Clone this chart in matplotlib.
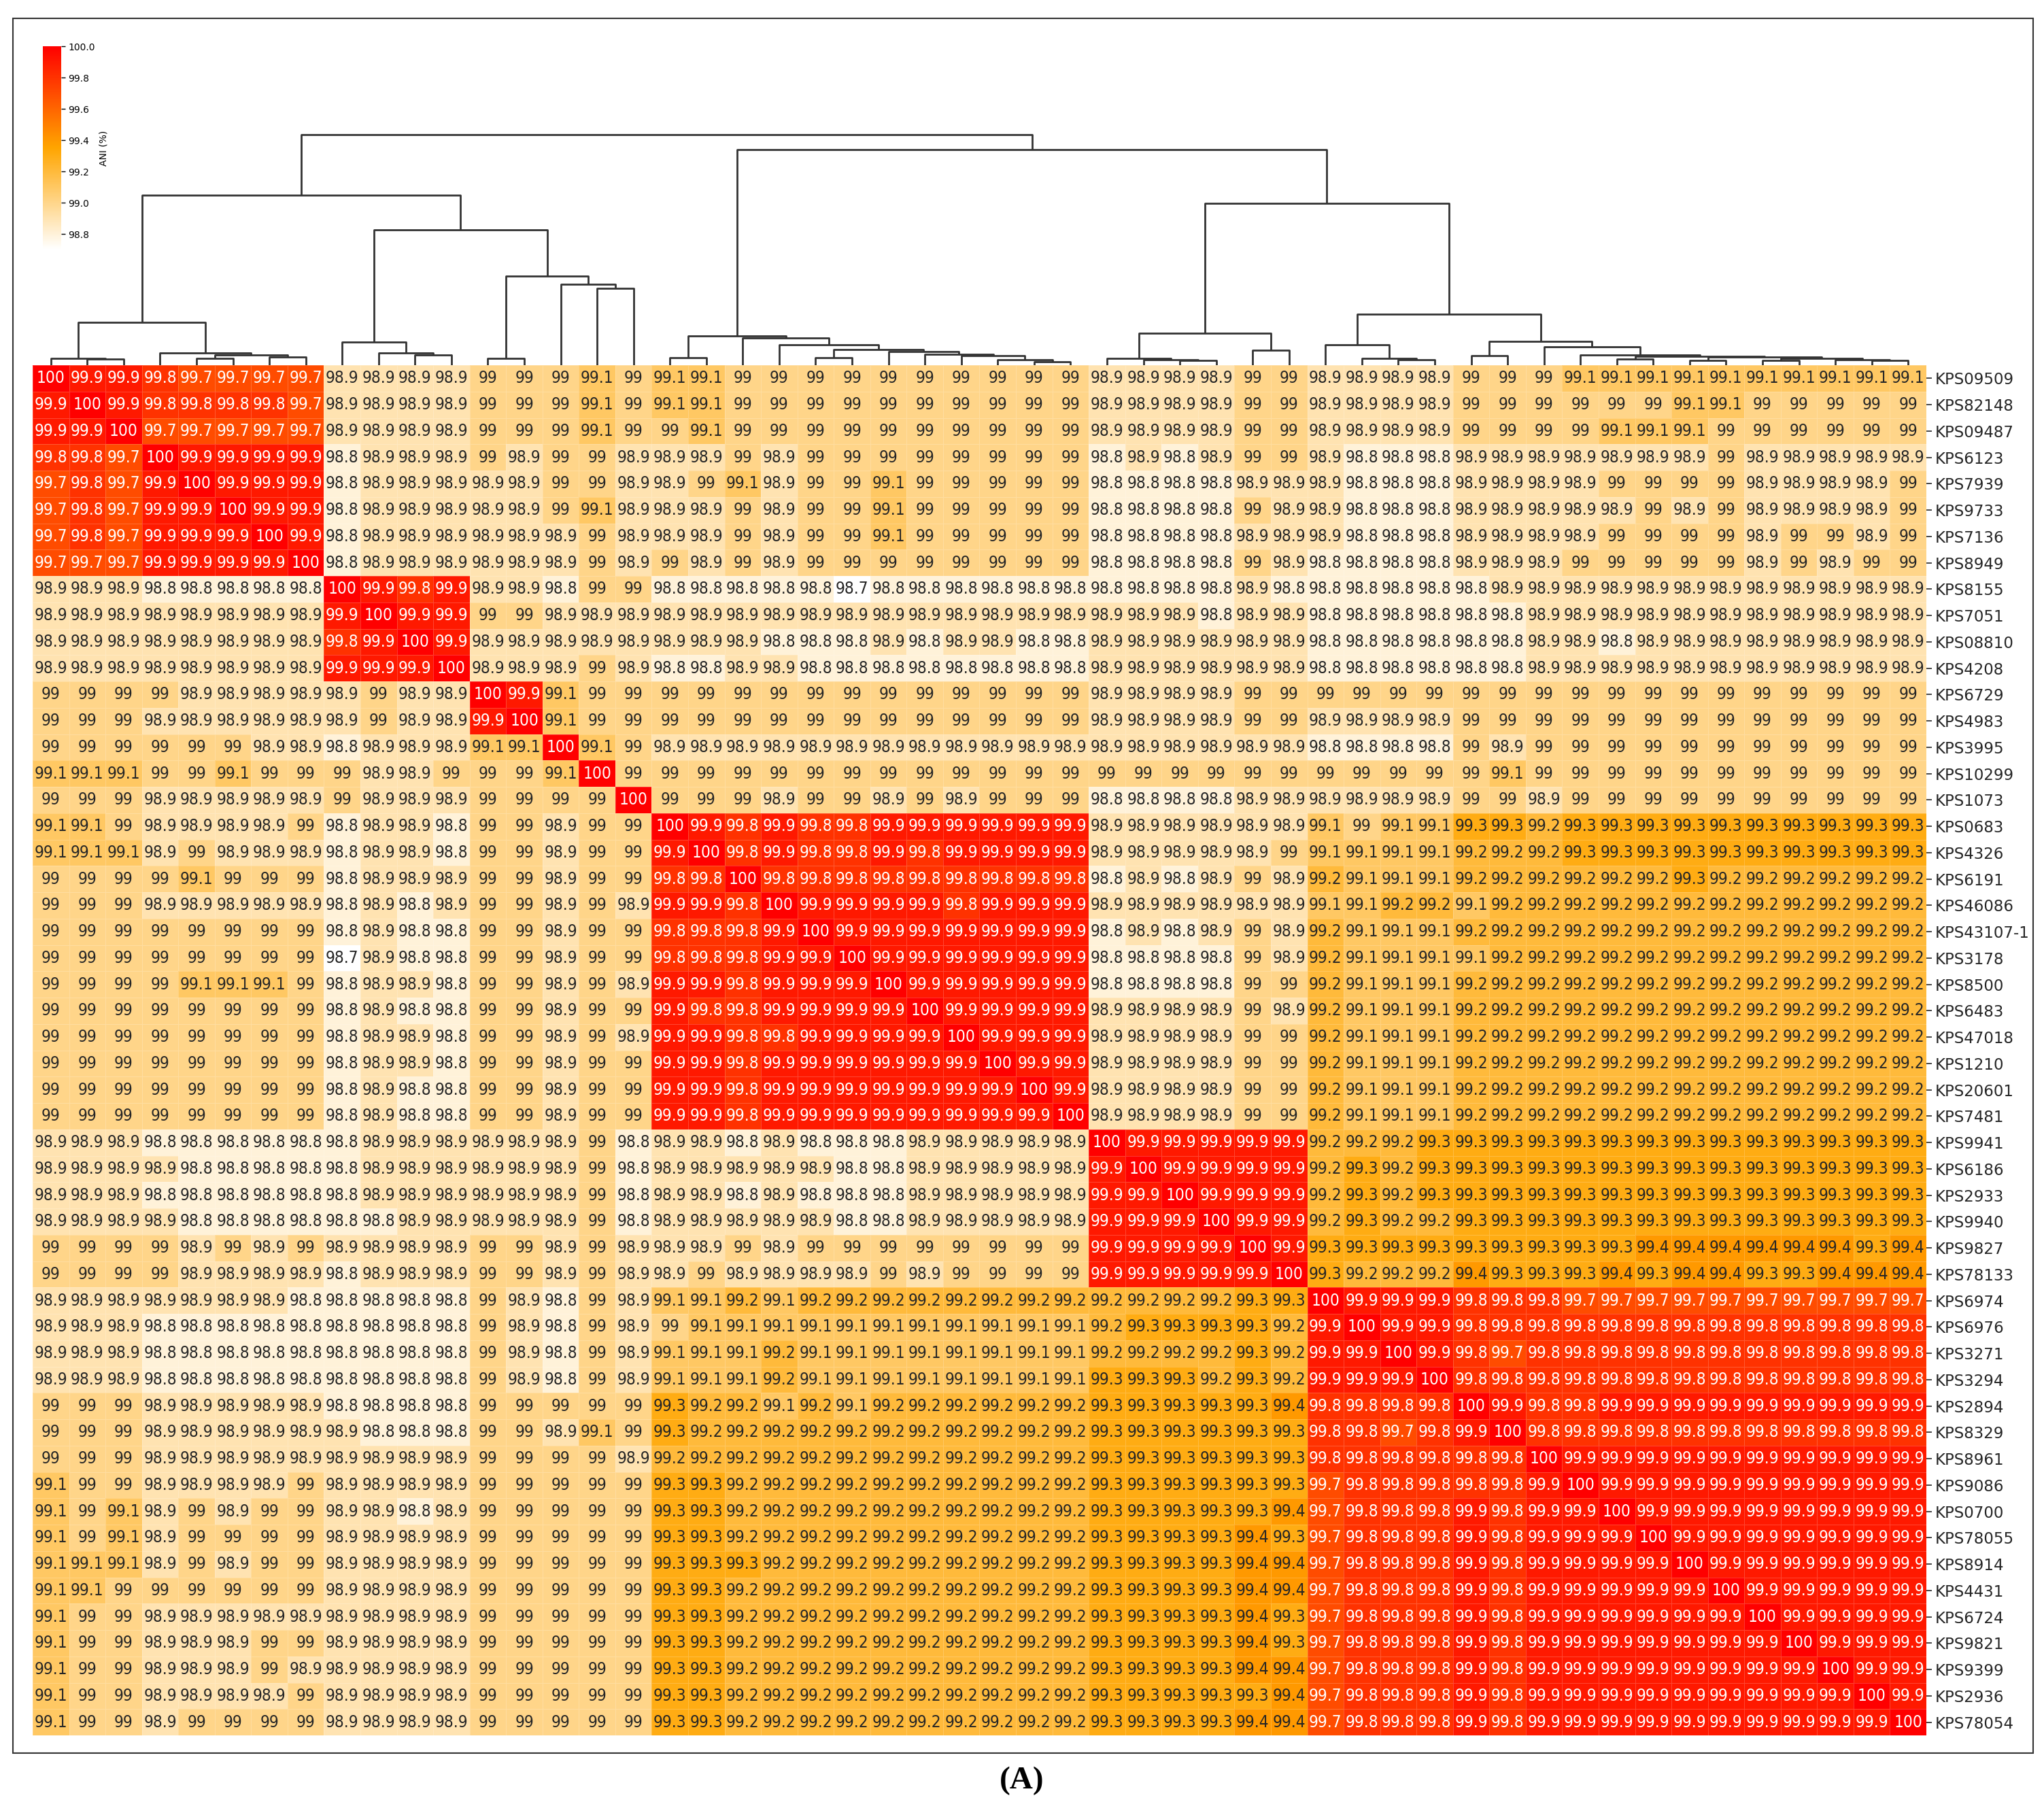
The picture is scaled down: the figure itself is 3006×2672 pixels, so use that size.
import numpy as np
import matplotlib
matplotlib.use("Agg")
import matplotlib.pyplot as plt
from matplotlib import font_manager
from matplotlib.colors import LinearSegmentedColormap, Normalize, to_rgb
from matplotlib.patches import Rectangle

strains = ["KPS09509", "KPS82148", "KPS09487", "KPS6123", "KPS7939", "KPS9733",
           "KPS7136", "KPS8949", "KPS8155", "KPS7051", "KPS08810", "KPS4208",
           "KPS6729", "KPS4983", "KPS3995", "KPS10299", "KPS1073", "KPS0683",
           "KPS4326", "KPS6191", "KPS46086", "KPS43107-1", "KPS3178", "KPS8500",
           "KPS6483", "KPS47018", "KPS1210", "KPS20601", "KPS7481", "KPS9941",
           "KPS6186", "KPS2933", "KPS9940", "KPS9827", "KPS78133", "KPS6974",
           "KPS6976", "KPS3271", "KPS3294", "KPS2894", "KPS8329", "KPS8961",
           "KPS9086", "KPS0700", "KPS78055", "KPS8914", "KPS4431", "KPS6724",
           "KPS9821", "KPS9399", "KPS2936", "KPS78054"]

# pairwise ANI (%), rows/cols in the clustered order shown
ani_rows = [
    ("100 99.9 99.9 99.8 99.7 99.7 99.7 99.7 98.9 98.9 98.9 98.9 99 99 99 99.1 99 "
     "99.1 99.1 99 99 99 99 99 99 99 99 99 99 98.9 98.9 98.9 98.9 99 99 "
     "98.9 98.9 98.9 98.9 99 99 99 99.1 99.1 99.1 99.1 99.1 99.1 99.1 99.1 99.1 99.1"),
    ("99.9 100 99.9 99.8 99.8 99.8 99.8 99.7 98.9 98.9 98.9 98.9 99 99 99 99.1 99 "
     "99.1 99.1 99 99 99 99 99 99 99 99 99 99 98.9 98.9 98.9 98.9 99 99 "
     "98.9 98.9 98.9 98.9 99 99 99 99 99 99 99.1 99.1 99 99 99 99 99"),
    ("99.9 99.9 100 99.7 99.7 99.7 99.7 99.7 98.9 98.9 98.9 98.9 99 99 99 99.1 99 "
     "99 99.1 99 99 99 99 99 99 99 99 99 99 98.9 98.9 98.9 98.9 99 99 "
     "98.9 98.9 98.9 98.9 99 99 99 99 99.1 99.1 99.1 99 99 99 99 99 99"),
    ("99.8 99.8 99.7 100 99.9 99.9 99.9 99.9 98.8 98.9 98.9 98.9 99 98.9 99 99 98.9 "
     "98.9 98.9 99 98.9 99 99 99 99 99 99 99 99 98.8 98.9 98.8 98.9 99 99 "
     "98.9 98.8 98.8 98.8 98.9 98.9 98.9 98.9 98.9 98.9 98.9 99 98.9 98.9 98.9 98.9 98.9"),
    ("99.7 99.8 99.7 99.9 100 99.9 99.9 99.9 98.8 98.9 98.9 98.9 98.9 98.9 99 99 98.9 "
     "98.9 99 99.1 98.9 99 99 99.1 99 99 99 99 99 98.8 98.8 98.8 98.8 98.9 98.9 "
     "98.9 98.8 98.8 98.8 98.9 98.9 98.9 98.9 99 99 99 99 98.9 98.9 98.9 98.9 99"),
    ("99.7 99.8 99.7 99.9 99.9 100 99.9 99.9 98.8 98.9 98.9 98.9 98.9 98.9 99 99.1 98.9 "
     "98.9 98.9 99 98.9 99 99 99.1 99 99 99 99 99 98.8 98.8 98.8 98.8 99 98.9 "
     "98.9 98.8 98.8 98.8 98.9 98.9 98.9 98.9 98.9 99 98.9 99 98.9 98.9 98.9 98.9 99"),
    ("99.7 99.8 99.7 99.9 99.9 99.9 100 99.9 98.8 98.9 98.9 98.9 98.9 98.9 98.9 99 98.9 "
     "98.9 98.9 99 98.9 99 99 99.1 99 99 99 99 99 98.8 98.8 98.8 98.8 98.9 98.9 "
     "98.9 98.8 98.8 98.8 98.9 98.9 98.9 98.9 99 99 99 99 98.9 99 99 98.9 99"),
    ("99.7 99.7 99.7 99.9 99.9 99.9 99.9 100 98.8 98.9 98.9 98.9 98.9 98.9 98.9 99 98.9 "
     "99 98.9 99 98.9 99 99 99 99 99 99 99 99 98.8 98.8 98.8 98.8 99 98.9 "
     "98.8 98.8 98.8 98.8 98.9 98.9 98.9 99 99 99 99 99 98.9 99 98.9 99 99"),
    ("98.9 98.9 98.9 98.8 98.8 98.8 98.8 98.8 100 99.9 99.8 99.9 98.9 98.9 98.8 99 99 "
     "98.8 98.8 98.8 98.8 98.8 98.7 98.8 98.8 98.8 98.8 98.8 98.8 98.8 98.8 98.8 98.8 98.9 98.8 "
     "98.8 98.8 98.8 98.8 98.8 98.9 98.9 98.9 98.9 98.9 98.9 98.9 98.9 98.9 98.9 98.9 98.9"),
    ("98.9 98.9 98.9 98.9 98.9 98.9 98.9 98.9 99.9 100 99.9 99.9 99 99 98.9 98.9 98.9 "
     "98.9 98.9 98.9 98.9 98.9 98.9 98.9 98.9 98.9 98.9 98.9 98.9 98.9 98.9 98.9 98.8 98.9 98.9 "
     "98.8 98.8 98.8 98.8 98.8 98.8 98.9 98.9 98.9 98.9 98.9 98.9 98.9 98.9 98.9 98.9 98.9"),
    ("98.9 98.9 98.9 98.9 98.9 98.9 98.9 98.9 99.8 99.9 100 99.9 98.9 98.9 98.9 98.9 98.9 "
     "98.9 98.9 98.9 98.8 98.8 98.8 98.9 98.8 98.9 98.9 98.8 98.8 98.9 98.9 98.9 98.9 98.9 98.9 "
     "98.8 98.8 98.8 98.8 98.8 98.8 98.9 98.9 98.8 98.9 98.9 98.9 98.9 98.9 98.9 98.9 98.9"),
    ("98.9 98.9 98.9 98.9 98.9 98.9 98.9 98.9 99.9 99.9 99.9 100 98.9 98.9 98.9 99 98.9 "
     "98.8 98.8 98.9 98.9 98.8 98.8 98.8 98.8 98.8 98.8 98.8 98.8 98.9 98.9 98.9 98.9 98.9 98.9 "
     "98.8 98.8 98.8 98.8 98.8 98.8 98.9 98.9 98.9 98.9 98.9 98.9 98.9 98.9 98.9 98.9 98.9"),
    ("99 99 99 99 98.9 98.9 98.9 98.9 98.9 99 98.9 98.9 100 99.9 99.1 99 99 "
     "99 99 99 99 99 99 99 99 99 99 99 99 98.9 98.9 98.9 98.9 99 99 "
     "99 99 99 99 99 99 99 99 99 99 99 99 99 99 99 99 99"),
    ("99 99 99 98.9 98.9 98.9 98.9 98.9 98.9 99 98.9 98.9 99.9 100 99.1 99 99 "
     "99 99 99 99 99 99 99 99 99 99 99 99 98.9 98.9 98.9 98.9 99 99 "
     "98.9 98.9 98.9 98.9 99 99 99 99 99 99 99 99 99 99 99 99 99"),
    ("99 99 99 99 99 99 98.9 98.9 98.8 98.9 98.9 98.9 99.1 99.1 100 99.1 99 "
     "98.9 98.9 98.9 98.9 98.9 98.9 98.9 98.9 98.9 98.9 98.9 98.9 98.9 98.9 98.9 98.9 98.9 98.9 "
     "98.8 98.8 98.8 98.8 99 98.9 99 99 99 99 99 99 99 99 99 99 99"),
    ("99.1 99.1 99.1 99 99 99.1 99 99 99 98.9 98.9 99 99 99 99.1 100 99 "
     "99 99 99 99 99 99 99 99 99 99 99 99 99 99 99 99 99 99 "
     "99 99 99 99 99 99.1 99 99 99 99 99 99 99 99 99 99 99"),
    ("99 99 99 98.9 98.9 98.9 98.9 98.9 99 98.9 98.9 98.9 99 99 99 99 100 "
     "99 99 99 98.9 99 99 98.9 99 98.9 99 99 99 98.8 98.8 98.8 98.8 98.9 98.9 "
     "98.9 98.9 98.9 98.9 99 99 98.9 99 99 99 99 99 99 99 99 99 99"),
    ("99.1 99.1 99 98.9 98.9 98.9 98.9 99 98.8 98.9 98.9 98.8 99 99 98.9 99 99 "
     "100 99.9 99.8 99.9 99.8 99.8 99.9 99.9 99.9 99.9 99.9 99.9 98.9 98.9 98.9 98.9 98.9 98.9 "
     "99.1 99 99.1 99.1 99.3 99.3 99.2 99.3 99.3 99.3 99.3 99.3 99.3 99.3 99.3 99.3 99.3"),
    ("99.1 99.1 99.1 98.9 99 98.9 98.9 98.9 98.8 98.9 98.9 98.8 99 99 98.9 99 99 "
     "99.9 100 99.8 99.9 99.8 99.8 99.9 99.8 99.9 99.9 99.9 99.9 98.9 98.9 98.9 98.9 98.9 99 "
     "99.1 99.1 99.1 99.1 99.2 99.2 99.2 99.3 99.3 99.3 99.3 99.3 99.3 99.3 99.3 99.3 99.3"),
    ("99 99 99 99 99.1 99 99 99 98.8 98.9 98.9 98.9 99 99 98.9 99 99 "
     "99.8 99.8 100 99.8 99.8 99.8 99.8 99.8 99.8 99.8 99.8 99.8 98.8 98.9 98.8 98.9 99 98.9 "
     "99.2 99.1 99.1 99.1 99.2 99.2 99.2 99.2 99.2 99.2 99.3 99.2 99.2 99.2 99.2 99.2 99.2"),
    ("99 99 99 98.9 98.9 98.9 98.9 98.9 98.8 98.9 98.8 98.9 99 99 98.9 99 98.9 "
     "99.9 99.9 99.8 100 99.9 99.9 99.9 99.9 99.8 99.9 99.9 99.9 98.9 98.9 98.9 98.9 98.9 98.9 "
     "99.1 99.1 99.2 99.2 99.1 99.2 99.2 99.2 99.2 99.2 99.2 99.2 99.2 99.2 99.2 99.2 99.2"),
    ("99 99 99 99 99 99 99 99 98.8 98.9 98.8 98.8 99 99 98.9 99 99 "
     "99.8 99.8 99.8 99.9 100 99.9 99.9 99.9 99.9 99.9 99.9 99.9 98.8 98.9 98.8 98.9 99 98.9 "
     "99.2 99.1 99.1 99.1 99.2 99.2 99.2 99.2 99.2 99.2 99.2 99.2 99.2 99.2 99.2 99.2 99.2"),
    ("99 99 99 99 99 99 99 99 98.7 98.9 98.8 98.8 99 99 98.9 99 99 "
     "99.8 99.8 99.8 99.9 99.9 100 99.9 99.9 99.9 99.9 99.9 99.9 98.8 98.8 98.8 98.8 99 98.9 "
     "99.2 99.1 99.1 99.1 99.1 99.2 99.2 99.2 99.2 99.2 99.2 99.2 99.2 99.2 99.2 99.2 99.2"),
    ("99 99 99 99 99.1 99.1 99.1 99 98.8 98.9 98.9 98.8 99 99 98.9 99 98.9 "
     "99.9 99.9 99.8 99.9 99.9 99.9 100 99.9 99.9 99.9 99.9 99.9 98.8 98.8 98.8 98.8 99 99 "
     "99.2 99.1 99.1 99.1 99.2 99.2 99.2 99.2 99.2 99.2 99.2 99.2 99.2 99.2 99.2 99.2 99.2"),
    ("99 99 99 99 99 99 99 99 98.8 98.9 98.8 98.8 99 99 98.9 99 99 "
     "99.9 99.8 99.8 99.9 99.9 99.9 99.9 100 99.9 99.9 99.9 99.9 98.9 98.9 98.9 98.9 99 98.9 "
     "99.2 99.1 99.1 99.1 99.2 99.2 99.2 99.2 99.2 99.2 99.2 99.2 99.2 99.2 99.2 99.2 99.2"),
    ("99 99 99 99 99 99 99 99 98.8 98.9 98.9 98.8 99 99 98.9 99 98.9 "
     "99.9 99.9 99.8 99.8 99.9 99.9 99.9 99.9 100 99.9 99.9 99.9 98.9 98.9 98.9 98.9 99 99 "
     "99.2 99.1 99.1 99.1 99.2 99.2 99.2 99.2 99.2 99.2 99.2 99.2 99.2 99.2 99.2 99.2 99.2"),
    ("99 99 99 99 99 99 99 99 98.8 98.9 98.9 98.8 99 99 98.9 99 99 "
     "99.9 99.9 99.8 99.9 99.9 99.9 99.9 99.9 99.9 100 99.9 99.9 98.9 98.9 98.9 98.9 99 99 "
     "99.2 99.1 99.1 99.1 99.2 99.2 99.2 99.2 99.2 99.2 99.2 99.2 99.2 99.2 99.2 99.2 99.2"),
    ("99 99 99 99 99 99 99 99 98.8 98.9 98.8 98.8 99 99 98.9 99 99 "
     "99.9 99.9 99.8 99.9 99.9 99.9 99.9 99.9 99.9 99.9 100 99.9 98.9 98.9 98.9 98.9 99 99 "
     "99.2 99.1 99.1 99.1 99.2 99.2 99.2 99.2 99.2 99.2 99.2 99.2 99.2 99.2 99.2 99.2 99.2"),
    ("99 99 99 99 99 99 99 99 98.8 98.9 98.8 98.8 99 99 98.9 99 99 "
     "99.9 99.9 99.8 99.9 99.9 99.9 99.9 99.9 99.9 99.9 99.9 100 98.9 98.9 98.9 98.9 99 99 "
     "99.2 99.1 99.1 99.1 99.2 99.2 99.2 99.2 99.2 99.2 99.2 99.2 99.2 99.2 99.2 99.2 99.2"),
    ("98.9 98.9 98.9 98.8 98.8 98.8 98.8 98.8 98.8 98.9 98.9 98.9 98.9 98.9 98.9 99 98.8 "
     "98.9 98.9 98.8 98.9 98.8 98.8 98.8 98.9 98.9 98.9 98.9 98.9 100 99.9 99.9 99.9 99.9 99.9 "
     "99.2 99.2 99.2 99.3 99.3 99.3 99.3 99.3 99.3 99.3 99.3 99.3 99.3 99.3 99.3 99.3 99.3"),
    ("98.9 98.9 98.9 98.9 98.8 98.8 98.8 98.8 98.8 98.9 98.9 98.9 98.9 98.9 98.9 99 98.8 "
     "98.9 98.9 98.9 98.9 98.9 98.8 98.8 98.9 98.9 98.9 98.9 98.9 99.9 100 99.9 99.9 99.9 99.9 "
     "99.2 99.3 99.2 99.3 99.3 99.3 99.3 99.3 99.3 99.3 99.3 99.3 99.3 99.3 99.3 99.3 99.3"),
    ("98.9 98.9 98.9 98.8 98.8 98.8 98.8 98.8 98.8 98.9 98.9 98.9 98.9 98.9 98.9 99 98.8 "
     "98.9 98.9 98.8 98.9 98.8 98.8 98.8 98.9 98.9 98.9 98.9 98.9 99.9 99.9 100 99.9 99.9 99.9 "
     "99.2 99.3 99.2 99.3 99.3 99.3 99.3 99.3 99.3 99.3 99.3 99.3 99.3 99.3 99.3 99.3 99.3"),
    ("98.9 98.9 98.9 98.9 98.8 98.8 98.8 98.8 98.8 98.8 98.9 98.9 98.9 98.9 98.9 99 98.8 "
     "98.9 98.9 98.9 98.9 98.9 98.8 98.8 98.9 98.9 98.9 98.9 98.9 99.9 99.9 99.9 100 99.9 99.9 "
     "99.2 99.3 99.2 99.2 99.3 99.3 99.3 99.3 99.3 99.3 99.3 99.3 99.3 99.3 99.3 99.3 99.3"),
    ("99 99 99 99 98.9 99 98.9 99 98.9 98.9 98.9 98.9 99 99 98.9 99 98.9 "
     "98.9 98.9 99 98.9 99 99 99 99 99 99 99 99 99.9 99.9 99.9 99.9 100 99.9 "
     "99.3 99.3 99.3 99.3 99.3 99.3 99.3 99.3 99.3 99.4 99.4 99.4 99.4 99.4 99.4 99.3 99.4"),
    ("99 99 99 99 98.9 98.9 98.9 98.9 98.8 98.9 98.9 98.9 99 99 98.9 99 98.9 "
     "98.9 99 98.9 98.9 98.9 98.9 99 98.9 99 99 99 99 99.9 99.9 99.9 99.9 99.9 100 "
     "99.3 99.2 99.2 99.2 99.4 99.3 99.3 99.3 99.4 99.3 99.4 99.4 99.3 99.3 99.4 99.4 99.4"),
    ("98.9 98.9 98.9 98.9 98.9 98.9 98.9 98.8 98.8 98.8 98.8 98.8 99 98.9 98.8 99 98.9 "
     "99.1 99.1 99.2 99.1 99.2 99.2 99.2 99.2 99.2 99.2 99.2 99.2 99.2 99.2 99.2 99.2 99.3 99.3 "
     "100 99.9 99.9 99.9 99.8 99.8 99.8 99.7 99.7 99.7 99.7 99.7 99.7 99.7 99.7 99.7 99.7"),
    ("98.9 98.9 98.9 98.8 98.8 98.8 98.8 98.8 98.8 98.8 98.8 98.8 99 98.9 98.8 99 98.9 "
     "99 99.1 99.1 99.1 99.1 99.1 99.1 99.1 99.1 99.1 99.1 99.1 99.2 99.3 99.3 99.3 99.3 99.2 "
     "99.9 100 99.9 99.9 99.8 99.8 99.8 99.8 99.8 99.8 99.8 99.8 99.8 99.8 99.8 99.8 99.8"),
    ("98.9 98.9 98.9 98.8 98.8 98.8 98.8 98.8 98.8 98.8 98.8 98.8 99 98.9 98.8 99 98.9 "
     "99.1 99.1 99.1 99.2 99.1 99.1 99.1 99.1 99.1 99.1 99.1 99.1 99.2 99.2 99.2 99.2 99.3 99.2 "
     "99.9 99.9 100 99.9 99.8 99.7 99.8 99.8 99.8 99.8 99.8 99.8 99.8 99.8 99.8 99.8 99.8"),
    ("98.9 98.9 98.9 98.8 98.8 98.8 98.8 98.8 98.8 98.8 98.8 98.8 99 98.9 98.8 99 98.9 "
     "99.1 99.1 99.1 99.2 99.1 99.1 99.1 99.1 99.1 99.1 99.1 99.1 99.3 99.3 99.3 99.2 99.3 99.2 "
     "99.9 99.9 99.9 100 99.8 99.8 99.8 99.8 99.8 99.8 99.8 99.8 99.8 99.8 99.8 99.8 99.8"),
    ("99 99 99 98.9 98.9 98.9 98.9 98.9 98.8 98.8 98.8 98.8 99 99 99 99 99 "
     "99.3 99.2 99.2 99.1 99.2 99.1 99.2 99.2 99.2 99.2 99.2 99.2 99.3 99.3 99.3 99.3 99.3 99.4 "
     "99.8 99.8 99.8 99.8 100 99.9 99.8 99.8 99.9 99.9 99.9 99.9 99.9 99.9 99.9 99.9 99.9"),
    ("99 99 99 98.9 98.9 98.9 98.9 98.9 98.9 98.8 98.8 98.8 99 99 98.9 99.1 99 "
     "99.3 99.2 99.2 99.2 99.2 99.2 99.2 99.2 99.2 99.2 99.2 99.2 99.3 99.3 99.3 99.3 99.3 99.3 "
     "99.8 99.8 99.7 99.8 99.9 100 99.8 99.8 99.8 99.8 99.8 99.8 99.8 99.8 99.8 99.8 99.8"),
    ("99 99 99 98.9 98.9 98.9 98.9 98.9 98.9 98.9 98.9 98.9 99 99 99 99 98.9 "
     "99.2 99.2 99.2 99.2 99.2 99.2 99.2 99.2 99.2 99.2 99.2 99.2 99.3 99.3 99.3 99.3 99.3 99.3 "
     "99.8 99.8 99.8 99.8 99.8 99.8 100 99.9 99.9 99.9 99.9 99.9 99.9 99.9 99.9 99.9 99.9"),
    ("99.1 99 99 98.9 98.9 98.9 98.9 99 98.9 98.9 98.9 98.9 99 99 99 99 99 "
     "99.3 99.3 99.2 99.2 99.2 99.2 99.2 99.2 99.2 99.2 99.2 99.2 99.3 99.3 99.3 99.3 99.3 99.3 "
     "99.7 99.8 99.8 99.8 99.8 99.8 99.9 100 99.9 99.9 99.9 99.9 99.9 99.9 99.9 99.9 99.9"),
    ("99.1 99 99.1 98.9 99 98.9 99 99 98.9 98.9 98.8 98.9 99 99 99 99 99 "
     "99.3 99.3 99.2 99.2 99.2 99.2 99.2 99.2 99.2 99.2 99.2 99.2 99.3 99.3 99.3 99.3 99.3 99.4 "
     "99.7 99.8 99.8 99.8 99.9 99.8 99.9 99.9 100 99.9 99.9 99.9 99.9 99.9 99.9 99.9 99.9"),
    ("99.1 99 99.1 98.9 99 99 99 99 98.9 98.9 98.9 98.9 99 99 99 99 99 "
     "99.3 99.3 99.2 99.2 99.2 99.2 99.2 99.2 99.2 99.2 99.2 99.2 99.3 99.3 99.3 99.3 99.4 99.3 "
     "99.7 99.8 99.8 99.8 99.9 99.8 99.9 99.9 99.9 100 99.9 99.9 99.9 99.9 99.9 99.9 99.9"),
    ("99.1 99.1 99.1 98.9 99 98.9 99 99 98.9 98.9 98.9 98.9 99 99 99 99 99 "
     "99.3 99.3 99.3 99.2 99.2 99.2 99.2 99.2 99.2 99.2 99.2 99.2 99.3 99.3 99.3 99.3 99.4 99.4 "
     "99.7 99.8 99.8 99.8 99.9 99.8 99.9 99.9 99.9 99.9 100 99.9 99.9 99.9 99.9 99.9 99.9"),
    ("99.1 99.1 99 99 99 99 99 99 98.9 98.9 98.9 98.9 99 99 99 99 99 "
     "99.3 99.3 99.2 99.2 99.2 99.2 99.2 99.2 99.2 99.2 99.2 99.2 99.3 99.3 99.3 99.3 99.4 99.4 "
     "99.7 99.8 99.8 99.8 99.9 99.8 99.9 99.9 99.9 99.9 99.9 100 99.9 99.9 99.9 99.9 99.9"),
    ("99.1 99 99 98.9 98.9 98.9 98.9 98.9 98.9 98.9 98.9 98.9 99 99 99 99 99 "
     "99.3 99.3 99.2 99.2 99.2 99.2 99.2 99.2 99.2 99.2 99.2 99.2 99.3 99.3 99.3 99.3 99.4 99.3 "
     "99.7 99.8 99.8 99.8 99.9 99.8 99.9 99.9 99.9 99.9 99.9 99.9 100 99.9 99.9 99.9 99.9"),
    ("99.1 99 99 98.9 98.9 98.9 99 99 98.9 98.9 98.9 98.9 99 99 99 99 99 "
     "99.3 99.3 99.2 99.2 99.2 99.2 99.2 99.2 99.2 99.2 99.2 99.2 99.3 99.3 99.3 99.3 99.4 99.3 "
     "99.7 99.8 99.8 99.8 99.9 99.8 99.9 99.9 99.9 99.9 99.9 99.9 99.9 100 99.9 99.9 99.9"),
    ("99.1 99 99 98.9 98.9 98.9 99 98.9 98.9 98.9 98.9 98.9 99 99 99 99 99 "
     "99.3 99.3 99.2 99.2 99.2 99.2 99.2 99.2 99.2 99.2 99.2 99.2 99.3 99.3 99.3 99.3 99.4 99.4 "
     "99.7 99.8 99.8 99.8 99.9 99.8 99.9 99.9 99.9 99.9 99.9 99.9 99.9 99.9 100 99.9 99.9"),
    ("99.1 99 99 98.9 98.9 98.9 98.9 99 98.9 98.9 98.9 98.9 99 99 99 99 99 "
     "99.3 99.3 99.2 99.2 99.2 99.2 99.2 99.2 99.2 99.2 99.2 99.2 99.3 99.3 99.3 99.3 99.3 99.4 "
     "99.7 99.8 99.8 99.8 99.9 99.8 99.9 99.9 99.9 99.9 99.9 99.9 99.9 99.9 99.9 100 99.9"),
    ("99.1 99 99 98.9 99 99 99 99 98.9 98.9 98.9 98.9 99 99 99 99 99 "
     "99.3 99.3 99.2 99.2 99.2 99.2 99.2 99.2 99.2 99.2 99.2 99.2 99.3 99.3 99.3 99.3 99.4 99.4 "
     "99.7 99.8 99.8 99.8 99.9 99.8 99.9 99.9 99.9 99.9 99.9 99.9 99.9 99.9 99.9 99.9 100"),
]

# column dendrogram: (left, right, merge height), leaves = column index
tree_a = ((0, (1, 2, 8.7), 10.3), (3, ((4, 5, 10.3), (6, 7, 12.0), 15.3), 18.0), 63.0)
tree_b = (8, (9, (10, 11, 15.3), 18.0), 33.7)
tree_c = ((12, 13, 9.7), (14, (15, 16, 112.7), 118.7), 131.0)
tree_d = ((17, 18, 11.0),
          (19, (20, ((21, 22, 11.0),
                     (23, (24, (25, (26, (27, 28, 5.3), 7.7), 13.7), 16.3), 19.7), 22.7), 29.7), 40.3), 43.0)
tree_e = ((29, (30, (31, 32, 6.5), 8.0), 9.7), (33, 34, 22.0), 47.0)
tree_f = ((35, (36, (37, 38, 8.0), 10.3), 30.3),
          ((39, 40, 13.7),
           (41, (42, ((43, 44, 9.0),
                      ((45, 46, 6.5), ((47, 48, 6.5), (49, (50, 51, 6.5), 8.0), 10.0), 11.5), 13.0), 14.7), 27.0),
           35.3), 75.3)
col_tree = ((tree_a, (tree_b, tree_c, 198.7), 249.7),
            (tree_d, (tree_e, tree_f, 238.0), 317.0), 338.7)

cbar_ticks = [98.8, 99.0, 99.2, 99.4, 99.6, 99.8, 100.0]

ani = np.array([[float(v) for v in r.split()] for r in ani_rows])
n = len(strains)
assert ani.shape == (n, n), ani.shape

# a narrow face keeps the cell numbers apart like in the original
narrow = None
for f in font_manager.fontManager.ttflist:
    if f.name == "Liberation Sans Narrow":
        narrow = dict(family="Liberation Sans Narrow", fontsize=18)
        break
    if f.name == "DejaVu Sans" and "Condensed" in f.fname and "Bold" not in f.fname \
            and "Oblique" not in f.fname:
        narrow = dict(family="DejaVu Sans", fontstretch="condensed", fontsize=17.5)
if narrow is None:
    narrow = dict(family="DejaVu Sans", fontsize=15)

W, H = 3006, 2672
fig = plt.figure(figsize=(W / 100, H / 100), dpi=100)


def box(x0, y0, x1, y1):
    return [x0 / W, 1 - y1 / H, (x1 - x0) / W, (y1 - y0) / H]


cmap = LinearSegmentedColormap.from_list("ani", ["#ffffff", "#ffa500", "#ff0000"])
norm = Normalize(vmin=ani.min(), vmax=ani.max())

# heatmap
ax = fig.add_axes(box(48, 537, 2833, 2552))
mesh = ax.pcolormesh(ani, cmap=cmap, norm=norm, edgecolors=(1, 1, 1, 0.2), linewidth=0.4)
ax.set_xlim(0, n)
ax.set_ylim(n, 0)


def lum(c):
    rgb = np.array(to_rgb(c))
    rgb = np.where(rgb <= 0.03928, rgb / 12.92, ((rgb + 0.055) / 1.055) ** 2.4)
    return 0.2126 * rgb[0] + 0.7152 * rgb[1] + 0.0722 * rgb[2]


for i in range(n):
    for j in range(n):
        v = ani[i, j]
        tc = "#262626" if lum(cmap(norm(v))) > 0.408 else "white"
        ax.text(j + 0.5, i + 0.5, f"{v:g}", ha="center", va="center",
                color=tc, **narrow)

ax.yaxis.tick_right()
ax.set_yticks(np.arange(n) + 0.5)
ax.set_yticklabels(strains, fontsize=16.5)
ax.set_xticks([])
ax.tick_params(axis="y", length=6, width=1.2, pad=3, colors="#262626")
for s in ax.spines.values():
    s.set_visible(False)

# column dendrogram
dax = fig.add_axes(box(48, 181, 2833, 537))


def draw(node):
    if isinstance(node, int):
        return node + 0.5, 0.0
    left, right, h = node
    xl, hl = draw(left)
    xr, hr = draw(right)
    dax.plot([xl, xl, xr, xr], [hl, h, h, hr], color="#333333", lw=2.0,
             solid_capstyle="butt")
    return (xl + xr) / 2, h


draw(col_tree)
dax.set_xlim(0, n)
dax.set_ylim(0, col_tree[2] * 1.05)
dax.axis("off")

# colorbar
cax = fig.add_axes(box(63, 68, 90, 367))
cb = fig.colorbar(mesh, cax=cax, ticks=cbar_ticks, format="%.1f")
cb.outline.set_visible(False)
cax.tick_params(labelsize=10, length=4, width=1)
cb.set_label("ANI (%)", fontsize=10, labelpad=4)

# panel frame and letter
fig.add_artist(Rectangle((19 / W, 1 - 2578 / H), (2990 - 19) / W, (2578 - 27) / H,
                         transform=fig.transFigure, fill=False, lw=1.5, ec="#333333"))
fig.text(1503 / W, 1 - 2619 / H, "(A)", ha="center", va="center", fontsize=34,
         fontweight="bold", family=["Liberation Serif", "DejaVu Serif"])

fig.savefig("out.png", dpi=100)
